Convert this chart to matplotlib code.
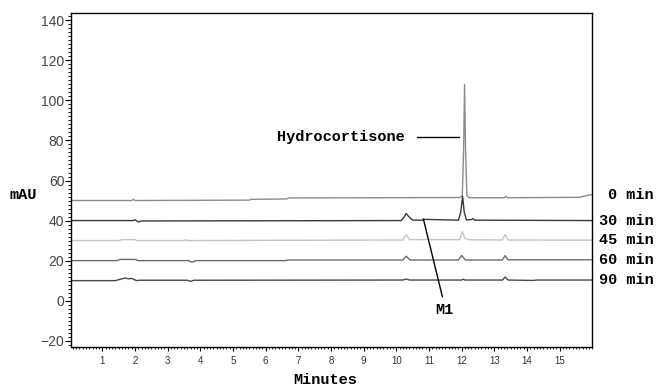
import matplotlib.pyplot as plt
from matplotlib.ticker import MultipleLocator
import matplotlib.transforms as mtransforms

# chromatogram traces (time in min, signal in mAU)
t0 = [0.05, 1.9, 1.95, 2.0, 5.5, 5.55, 6.65, 6.7, 11.95, 12.02, 12.06, 12.09, 12.12, 12.16, 12.22, 13.3, 13.35, 13.4, 15.6, 15.8, 16.0]
v0 = [50.0, 50.0, 50.6, 50.0, 50.2, 50.6, 50.8, 51.3, 51.5, 52.5, 75.0, 108.0, 75.0, 52.5, 51.4, 51.4, 52.2, 51.4, 51.6, 52.4, 53.0]

t30 = [0.05, 1.95, 2.0, 2.1, 2.2, 10.15, 10.25, 10.3, 10.38, 10.5, 10.8, 10.85, 11.9, 11.97, 12.03, 12.08, 12.15, 12.3, 12.35, 12.4, 16.0]
v30 = [40.0, 40.0, 40.4, 39.3, 39.8, 40.0, 42.0, 43.5, 42.0, 40.2, 40.2, 40.6, 40.2, 44.0, 52.0, 44.0, 40.3, 40.5, 41.0, 40.2, 40.0]

t45 = [0.05, 1.5, 1.6, 2.0, 2.05, 3.5, 3.55, 3.6, 10.2, 10.3, 10.4, 11.95, 12.02, 12.1, 12.25, 13.25, 13.33, 13.42, 16.0]
v45 = [30.0, 30.0, 30.5, 30.5, 30.0, 30.0, 30.4, 30.0, 30.3, 33.0, 30.5, 30.5, 34.5, 31.0, 30.4, 30.3, 33.0, 30.3, 30.2]

t60 = [0.05, 1.45, 1.55, 2.0, 2.1, 3.65, 3.7, 3.8, 3.85, 6.6, 6.7, 10.2, 10.3, 10.42, 11.9, 12.0, 12.12, 13.25, 13.33, 13.42, 16.0]
v60 = [20.0, 20.0, 20.6, 20.6, 20.0, 20.0, 19.4, 19.4, 20.0, 20.0, 20.3, 20.3, 22.2, 20.3, 20.3, 22.5, 20.3, 20.3, 22.5, 20.4, 20.4]

t90 = [0.05, 1.4, 1.55, 1.7, 1.8, 1.9, 2.05, 2.15, 3.6, 3.7, 3.8, 10.2, 10.3, 10.4, 12.0, 12.05, 12.1, 13.25, 13.33, 13.42, 14.2, 14.3, 16.0]
v90 = [10.0, 10.0, 10.7, 11.3, 10.9, 11.1, 10.0, 10.2, 10.2, 9.6, 10.2, 10.3, 10.8, 10.3, 10.3, 10.7, 10.3, 10.3, 11.8, 10.3, 10.1, 10.3, 10.3]

traces = [(t0, v0, "0 min", "#8c8c8c"),
          (t30, v30, "30 min", "#383838"),
          (t45, v45, "45 min", "#c4c4c4"),
          (t60, v60, "60 min", "#6a6a6a"),
          (t90, v90, "90 min", "#484848")]

mono = "Liberation Mono"
sans = "Liberation Sans"

fig = plt.figure(figsize=(6.56, 3.87), dpi=100)
ax = fig.add_axes([0.1087, 0.1041, 0.7942, 0.8615])

for t, v, lab, col in traces:
    ax.plot(t, v, color=col, lw=1.0)

ax.set_xlim(0.05, 16.0)
ax.set_ylim(-23, 143.5)

ax.xaxis.set_major_locator(MultipleLocator(1))
ax.xaxis.set_minor_locator(MultipleLocator(0.1))
ax.yaxis.set_major_locator(MultipleLocator(20))
ax.yaxis.set_minor_locator(MultipleLocator(2))
ax.set_xticks(range(1, 16))
ax.tick_params(axis="x", which="major", length=3, width=0.8, labelsize=7, pad=4, labelcolor="#333333")
ax.tick_params(axis="x", which="minor", length=1.5, width=0.6)
ax.tick_params(axis="y", which="major", length=4, width=0.8, labelsize=10, pad=1, labelcolor="#444444")
ax.tick_params(axis="y", which="minor", length=2, width=0.6)
for lbl in ax.get_xticklabels() + ax.get_yticklabels():
    lbl.set_fontfamily(sans)
for s in ax.spines.values():
    s.set_linewidth(1.0)

# right-hand labels for each trace
trans = mtransforms.blended_transform_factory(fig.transFigure, ax.transData)
for t, v, lab, col in traces:
    fig.text(0.996, v[-1], lab, transform=trans, ha="right", va="center",
             fontsize=11, fontweight="bold", family=mono)

# annotations
ax.text(10.27, 81.7, "Hydrocortisone", ha="right", va="center",
        fontsize=11, fontweight="bold", family=mono)
ax.plot([10.64, 11.92], [81.7, 81.7], color="black", lw=1.0)
ax.plot([10.83, 11.41], [40.7, 2.0], color="black", lw=1.0)
ax.text(11.47, -4.8, "M1", ha="center", va="center",
        fontsize=11, fontweight="bold", family=mono)

fig.text(10 / 656, 1 - 195 / 387, "mAU", ha="left", va="center",
         fontsize=11, fontweight="bold", family=mono)
fig.text(325 / 656, 1 - 380 / 387, "Minutes", ha="center", va="center",
         fontsize=11, fontweight="bold", family=mono)

fig.savefig("out.png", dpi=100)
